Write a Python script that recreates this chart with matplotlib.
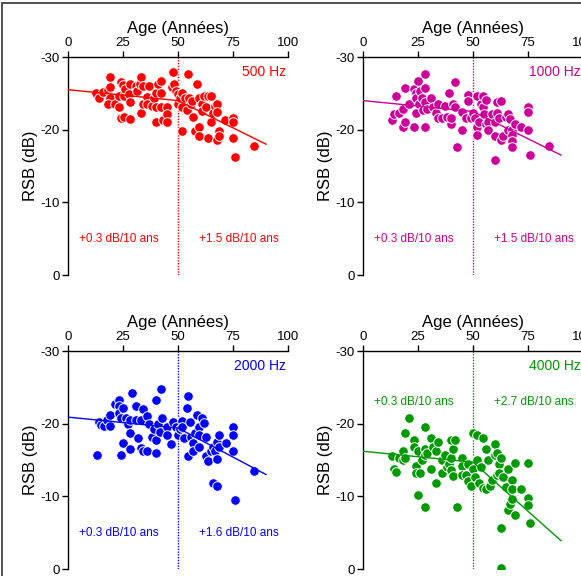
import matplotlib
matplotlib.use("Agg")
import matplotlib.pyplot as plt
from matplotlib.patches import Rectangle
import numpy as np

plt.rcParams['font.family'] = ['Liberation Sans', 'DejaVu Sans']
plt.rcParams['axes.unicode_minus'] = False

# ---- donnees (age, RSB en dB) par frequence ----
age_500 = [12.9, 14.0, 16.0, 18.0, 19.0, 19.0, 19.0, 18.0, 21.3, 23.0, 23.0, 23.9, 25.0, 25.4, 26.1,
           27.8, 28.0, 28.0, 24.3, 25.4, 28.0, 30.9, 31.2, 32.7, 33.0, 34.2, 33.0, 34.2, 36.0, 36.0,
           36.9, 38.0, 39.0, 40.0, 40.0, 40.0, 41.0, 42.1, 42.1, 42.1, 43.0, 44.8, 44.8, 44.8, 47.1,
           47.6, 48.0, 49.0, 50.2, 50.2, 50.9, 52.0, 52.0, 52.0, 53.2, 54.0, 54.7, 55.0, 55.8, 56.2,
           56.7, 57.8, 58.8, 59.7, 59.7, 59.7, 60.8, 60.8, 61.9, 62.8, 63.8, 63.8, 64.9, 64.9, 65.8,
           66.9, 67.9, 67.9, 67.9, 68.8, 68.8, 71.4, 74.8, 74.8, 74.8, 75.7, 84.6]
rsb_500 = [-25.0, -24.3, -25.2, -25.4, -27.3, -25.9, -24.3, -23.5, -23.5, -23.1, -24.7, -26.6, -26.2, -24.7, -25.6,
           -24.9, -26.3, -23.8, -21.6, -21.8, -21.4, -26.0, -25.3, -26.3, -27.2, -26.0, -22.3, -23.5, -24.5, -23.5,
           -26.0, -23.3, -24.3, -25.0, -23.1, -21.0, -26.3, -25.0, -26.7, -23.1, -21.3, -23.1, -22.1, -21.0, -25.9,
           -28.0, -26.3, -25.3, -24.9, -23.5, -24.3, -25.0, -23.1, -19.8, -24.3, -22.7, -27.6, -24.3, -23.5, -24.0,
           -21.8, -19.8, -26.3, -24.3, -20.4, -19.1, -23.5, -22.6, -24.6, -23.1, -24.7, -18.8, -24.7, -21.0, -22.3,
           -23.3, -23.5, -22.5, -18.6, -19.8, -19.1, -21.3, -21.6, -21.0, -18.8, -16.3, -17.8]

age_1000 = [13.2, 14.3, 15.2, 16.3, 18.2, 18.2, 19.3, 19.3, 21.1, 23.1, 23.1, 23.9, 24.2, 24.2, 24.9,
            25.4, 26.1, 26.9, 27.2, 28.1, 28.1, 28.1, 28.4, 29.2, 31.0, 31.9, 33.0, 34.0, 34.0, 36.0,
            37.1, 38.0, 39.1, 40.1, 40.1, 41.0, 41.9, 41.9, 42.9, 45.0, 45.0, 47.0, 47.9, 47.9, 48.9,
            50.0, 50.9, 52.0, 52.0, 52.0, 52.7, 53.8, 54.7, 54.7, 55.0, 55.8, 55.8, 56.8, 56.8, 58.8,
            59.9, 59.9, 59.9, 60.8, 60.8, 61.9, 62.9, 62.9, 63.8, 64.9, 65.9, 65.9, 66.9, 67.9, 67.9,
            67.9, 67.9, 69.0, 71.7, 74.8, 74.8, 74.8, 75.7, 84.7]
rsb_1000 = [-21.3, -22.1, -24.6, -22.3, -22.8, -20.3, -25.8, -21.0, -23.5, -25.6, -20.3, -25.0, -24.3, -22.3, -26.7,
            -23.5, -25.3, -24.3, -22.7, -27.6, -25.8, -20.3, -23.8, -22.8, -24.3, -23.1, -22.3, -23.5, -21.6, -21.6,
            -23.3, -21.8, -25.0, -20.8, -21.6, -23.5, -26.6, -23.1, -17.6, -22.5, -20.0, -21.6, -24.8, -24.0, -21.6,
            -22.3, -21.6, -24.6, -20.3, -19.3, -21.0, -23.5, -24.6, -23.1, -22.1, -24.1, -20.8, -21.0, -20.0, -22.1,
            -21.0, -19.1, -15.8, -23.8, -22.3, -21.6, -24.0, -18.6, -19.1, -21.8, -22.1, -20.0, -21.4, -20.0, -19.3,
            -18.4, -17.6, -20.8, -20.3, -23.1, -22.5, -20.0, -16.5, -17.8]

age_2000 = [13.2, 14.1, 15.2, 16.3, 17.9, 19.0, 19.0, 21.3, 23.1, 23.1, 23.1, 23.9, 23.9, 25.1, 25.1,
            26.3, 27.1, 28.1, 28.1, 28.1, 28.9, 30.9, 30.9, 31.9, 33.0, 33.0, 33.9, 34.2, 36.0, 36.0,
            36.9, 38.0, 39.1, 40.0, 40.0, 40.0, 40.7, 41.8, 42.1, 42.9, 44.8, 44.8, 46.8, 47.9, 48.9,
            49.8, 50.9, 52.0, 52.0, 52.9, 54.0, 54.7, 54.7, 55.5, 55.8, 56.7, 56.7, 57.8, 58.8, 59.7,
            59.7, 59.7, 60.8, 61.9, 62.8, 62.8, 63.8, 64.9, 65.8, 65.8, 66.9, 67.9, 67.9, 67.9, 68.8,
            68.8, 71.9, 74.8, 74.8, 74.8, 75.7, 84.6]
rsb_2000 = [-15.7, -20.2, -19.8, -19.7, -20.5, -21.2, -19.7, -22.7, -23.2, -22.4, -21.5, -20.8, -15.7, -22.2, -17.4,
            -20.8, -19.9, -18.7, -16.5, -20.5, -24.2, -22.5, -20.5, -18.0, -20.5, -16.7, -22.0, -16.2, -21.0, -16.2,
            -19.9, -18.2, -19.2, -23.2, -17.8, -15.9, -19.9, -18.9, -24.8, -20.8, -19.6, -18.5, -17.2, -20.2, -19.6,
            -18.5, -19.2, -20.4, -19.6, -18.0, -22.2, -23.8, -15.5, -20.2, -18.2, -17.4, -16.2, -18.7, -21.2, -19.6,
            -18.5, -16.8, -20.8, -20.1, -18.2, -15.5, -14.9, -16.3, -16.8, -11.8, -16.2, -17.5, -15.2, -11.4, -18.5,
            -16.8, -17.3, -19.6, -18.5, -16.2, -9.5, -13.5]

age_4000 = [13.2, 14.3, 15.2, 16.3, 18.2, 18.2, 19.3, 19.3, 21.1, 23.1, 23.1, 23.9, 24.2, 24.9, 25.1,
            26.1, 26.9, 28.1, 28.1, 28.1, 28.1, 29.2, 31.0, 31.0, 31.9, 33.0, 33.3, 34.0, 36.0, 36.0,
            37.1, 38.0, 39.1, 40.1, 40.1, 40.1, 41.0, 41.0, 41.9, 42.9, 45.0, 45.0, 45.0, 47.0, 47.9,
            47.9, 48.9, 50.0, 50.0, 50.9, 52.0, 52.0, 52.7, 53.8, 54.7, 54.7, 55.8, 55.8, 56.8, 57.7,
            58.8, 59.9, 59.9, 60.8, 60.8, 61.9, 61.9, 62.9, 62.9, 62.9, 63.8, 64.9, 65.9, 65.9, 66.9,
            67.9, 67.9, 67.9, 69.0, 69.0, 71.7, 74.8, 74.8, 74.8, 75.7]
rsb_4000 = [-15.5, -13.7, -13.4, -15.3, -16.3, -15.0, -18.7, -15.3, -20.8, -17.8, -16.8, -14.2, -13.2, -16.2, -10.2,
            -13.2, -15.0, -19.5, -16.5, -15.7, -8.6, -15.9, -18.0, -13.7, -16.8, -11.8, -16.2, -17.5, -13.2, -15.0,
            -15.7, -14.0, -14.5, -17.8, -15.3, -13.6, -16.5, -12.8, -17.8, -8.6, -15.3, -14.2, -12.9, -12.9, -14.5,
            -12.1, -11.4, -18.7, -13.7, -12.7, -18.5, -15.0, -11.8, -14.0, -18.0, -11.1, -16.5, -11.0, -15.0, -11.4,
            -12.2, -17.2, -15.7, -12.9, -15.9, -14.5, -13.2, -15.3, -5.6, -0.1, -12.7, -11.3, -13.7, -8.1, -8.9,
            -12.2, -11.0, -9.7, -14.6, -7.5, -11.0, -14.6, -9.8, -8.8, -6.3]

freqs = ['500 Hz', '1000 Hz', '2000 Hz', '4000 Hz']
ages = [age_500, age_1000, age_2000, age_4000]
rsbs = [rsb_500, rsb_1000, rsb_2000, rsb_4000]
colors = ['#ff0000', '#cc0099', '#0000ff', '#009900']

# droite de regression en deux segments (coupure a 50 ans)
intercepts = [-25.5, -24.0, -20.9, -16.2]
slopes_young = [0.03, 0.03, 0.03, 0.03]
slopes_old = [0.15, 0.15, 0.16, 0.27]
slope_texts_young = ['+0.3 dB/10 ans'] * 4
slope_texts_old = ['+1.5 dB/10 ans', '+1.5 dB/10 ans', '+1.6 dB/10 ans', '+2.7 dB/10 ans']
text_levels = [-5, -5, -5, -23]
age_break = 50
age_max = 90

fig = plt.figure(figsize=(5.81, 5.76), dpi=100)

W, H = 581, 576
positions = [(68, 57), (363, 57), (68, 351), (363, 351)]
ax_w, ax_h = 220, 218

for i in range(4):
    x0, y0 = positions[i]
    ax = fig.add_axes([x0 / W, 1 - (y0 + ax_h) / H, ax_w / W, ax_h / H])
    c = colors[i]

    ax.scatter(ages[i], rsbs[i], s=48, color=c, edgecolors='white', linewidths=0.7, zorder=3)

    fit_x = np.array([0, age_break, age_max])
    fit_y = (intercepts[i] + slopes_young[i] * np.minimum(fit_x, age_break)
             + slopes_old[i] * np.maximum(fit_x - age_break, 0))
    ax.plot(fit_x, fit_y, color=c, lw=1.0, zorder=4)
    ax.axvline(age_break, color=c, lw=1.0, ls=(0, (1, 1)), zorder=2)

    ax.text(99, -28, freqs[i], color=c, fontsize=10, ha='right', va='center')
    ax.text(23, text_levels[i], slope_texts_young[i], color=c, fontsize=8.5, ha='center', va='center')
    ax.text(77.5, text_levels[i], slope_texts_old[i], color=c, fontsize=8.5, ha='center', va='center')

    ax.set_xlim(0, 100)
    ax.set_ylim(0, -30)
    ax.set_xticks([0, 25, 50, 75, 100])
    ax.set_yticks([-30, -20, -10, 0])
    ax.xaxis.set_ticks_position('top')
    ax.xaxis.set_label_position('top')
    ax.spines['right'].set_visible(False)
    ax.spines['bottom'].set_visible(False)
    for s in ('top', 'left'):
        ax.spines[s].set_linewidth(1.0)
    ax.tick_params(axis='both', direction='out', length=4, width=1.0, labelsize=9.5, pad=2)
    ax.set_xlabel('Age (Années)', fontsize=12, labelpad=3)
    ax.set_ylabel('RSB (dB)', fontsize=12, labelpad=2)
    ax.set_facecolor('none')

# cadre autour de la figure
fig.patches.append(Rectangle((2.5 / W, -0.1), 1.2, 1 - 2.5 / H + 0.1, transform=fig.transFigure,
                             fill=False, edgecolor='#333333', lw=1.2))

fig.savefig('out.png', dpi=100)
